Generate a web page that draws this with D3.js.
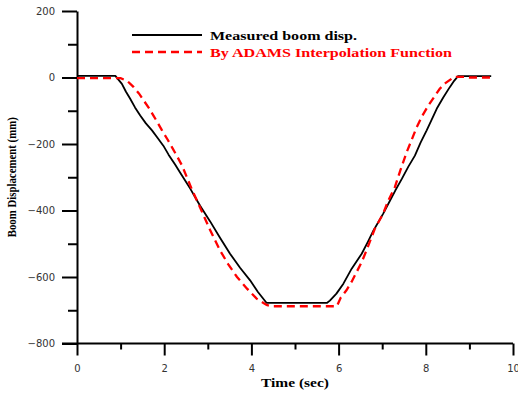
<!DOCTYPE html>
<html>
<head>
<meta charset="utf-8">
<script src="https://cdn.jsdelivr.net/npm/d3@7"></script>
<style>
  html, body { margin: 0; padding: 0; background: #fff; }
  svg { display: block; }
</style>
</head>
<body>
<svg id="chart" width="518" height="394"></svg>
<script>
// Time (s) and measured boom displacement (mm)
const measuredTime = [0, 0.88, 1.03, 1.12, 1.22, 1.33, 1.45, 1.58, 1.72, 1.85, 1.98, 2.10, 2.25, 2.36, 2.48, 2.60, 2.71, 2.82, 3.05, 3.28, 3.51, 3.74, 3.97, 4.15, 4.35, 5.73, 5.80, 5.95, 6.11, 6.30, 6.53, 6.68, 6.80, 7.02, 7.18, 7.30, 7.45, 7.60, 7.75, 7.88, 8.02, 8.13, 8.25, 8.40, 8.55, 8.65, 8.74, 9.50];
const measuredDisp = [5, 5, -19, -42, -64, -90, -114, -138, -159, -182, -205, -232, -262, -285, -310, -335, -360, -385, -432, -482, -530, -572, -610, -645, -678, -678, -671, -650, -620, -575, -530, -492, -460, -410, -370, -340, -305, -268, -235, -196, -159, -128, -94, -60, -29, -10, 4, 4];

// Time (s) and displacement (mm) from the ADAMS interpolation function
const adamsTime = [0, 1.00, 1.15, 1.30, 1.42, 1.53, 1.65, 1.75, 1.85, 1.95, 2.07, 2.18, 2.30, 2.41, 2.52, 2.63, 2.82, 3.05, 3.28, 3.47, 3.67, 3.90, 4.12, 4.35, 4.45, 5.96, 6.05, 6.18, 6.30, 6.41, 6.53, 6.64, 6.83, 7.02, 7.14, 7.29, 7.42, 7.56, 7.68, 7.79, 7.92, 8.06, 8.20, 8.32, 8.45, 8.59, 8.70, 8.90, 9.00, 9.50];
const adamsDisp = [-2, -2, -10, -29, -48, -69, -92, -114, -136, -159, -185, -210, -238, -265, -300, -335, -390, -458, -520, -562, -600, -635, -665, -684, -688, -688, -662, -640, -614, -586, -555, -520, -455, -410, -370, -330, -278, -225, -186, -150, -115, -84, -57, -34, -17, -4, 2, 2, 0, 0];

const xTicks = [0, 2, 4, 6, 8, 10];
const xMinorTicks = [1, 3, 5, 7, 9];
const yTicks = [200, 0, -200, -400, -600, -800];
const yMinorTicks = [100, -100, -300, -500, -700];

const seriesNames = ["Measured boom disp.", "By ADAMS Interpolation Function"];
const xTitle = "Time (sec)";
const yTitle = "Boom Displacement (mm)";

const svg = d3.select("#chart");
const x = d3.scaleLinear().domain([0, 10]).range([77, 513]);
const y = d3.scaleLinear().domain([-800, 200]).range([343.5, 11]);

const axisColor = "#000";
const labelFont = "'DejaVu Sans', sans-serif";
const serif = "'Liberation Serif', 'Times New Roman', serif";

// X axis: major ticks with labels, minor ticks without
const gx = svg.append("g").attr("transform", `translate(0,${y(-800)})`);
gx.call(d3.axisBottom(x).tickValues(xTicks).tickSize(12).tickSizeOuter(0).tickPadding(9));
const gxMinor = svg.append("g").attr("transform", `translate(0,${y(-800)})`);
gxMinor.call(d3.axisBottom(x).tickValues(xMinorTicks).tickSize(6).tickFormat(""));
gxMinor.select(".domain").remove();

// Y axis
const gy = svg.append("g").attr("transform", `translate(${x(0)},0)`);
gy.call(d3.axisLeft(y).tickValues(yTicks).tickSize(15).tickSizeOuter(0).tickPadding(7));
const gyMinor = svg.append("g").attr("transform", `translate(${x(0)},0)`);
gyMinor.call(d3.axisLeft(y).tickValues(yMinorTicks).tickSize(9).tickFormat(""));
gyMinor.select(".domain").remove();

svg.selectAll(".domain, .tick line")
  .attr("stroke", axisColor).attr("stroke-width", 2);
svg.selectAll(".tick text")
  .attr("font-family", labelFont).attr("font-size", 10).attr("fill", "#333");

// Extend the x domain line left so it meets the -800 tick
gx.select(".domain").attr("d", `M${x(0) - 15},0H${x(10)}`);

// Axis titles
svg.append("text")
  .attr("x", x(5)).attr("y", 387)
  .attr("text-anchor", "middle")
  .attr("font-family", serif)
  .attr("font-weight", "bold").attr("font-size", 12.5)
  .attr("textLength", 68).attr("lengthAdjust", "spacingAndGlyphs")
  .text(xTitle);

svg.append("text")
  .attr("transform", `translate(16,${y(-300)}) rotate(-90)`)
  .attr("text-anchor", "middle")
  .attr("font-family", serif)
  .attr("font-weight", "bold").attr("font-size", 11.5)
  .attr("textLength", 120).attr("lengthAdjust", "spacingAndGlyphs")
  .text(yTitle);

// Curves
const line = d3.line().x(d => x(d[0])).y(d => y(d[1]));
const measured = measuredTime.map((t, i) => [t, measuredDisp[i]]);
const adams = adamsTime.map((t, i) => [t, adamsDisp[i]]);

svg.append("path").datum(measured)
  .attr("d", line).attr("fill", "none")
  .attr("stroke", "#000").attr("stroke-width", 1.8)
  .attr("stroke-linejoin", "round");

svg.append("path").datum(adams)
  .attr("d", line).attr("fill", "none")
  .attr("stroke", "#ff0000").attr("stroke-width", 2.3)
  .attr("stroke-dasharray", "8,5");

// Legend
const legend = [
  { name: seriesNames[0], color: "#000", dash: null, width: 1.8, y: 35, textW: 147 },
  { name: seriesNames[1], color: "#ff0000", dash: "8,5", width: 2.3, y: 52, textW: 242 }
];
const lg = svg.append("g");
legend.forEach(d => {
  lg.append("line")
    .attr("x1", 132).attr("x2", 202).attr("y1", d.y).attr("y2", d.y)
    .attr("stroke", d.color).attr("stroke-width", d.width)
    .attr("stroke-dasharray", d.dash);
  lg.append("text")
    .attr("x", 210).attr("y", d.y + 4.5)
    .attr("font-family", serif)
    .attr("font-weight", "bold").attr("font-size", 13)
    .attr("fill", d.color)
    .attr("textLength", d.textW).attr("lengthAdjust", "spacingAndGlyphs")
    .text(d.name);
});
</script>
</body>
</html>
